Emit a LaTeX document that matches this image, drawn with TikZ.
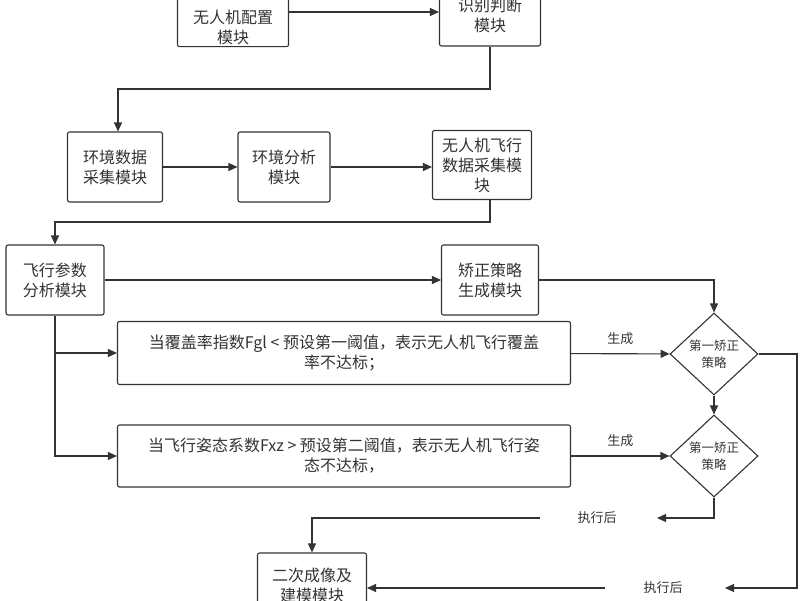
\documentclass[tikz,border=0pt]{standalone}
\usepackage{fontspec}
\setmainfont{Noto Sans CJK SC}
\usetikzlibrary{arrows.meta}
\usetikzlibrary{positioning}
\usetikzlibrary{shapes.geometric}
\begin{document}
\begin{tikzpicture}[x=1pt,y=-1pt,->,>={Triangle[length=9pt,width=8pt]},line width=1.1pt,
					color=black!80,font=\fontsize{16}{20}\selectfont]
					\tikzset{box/.style={draw,rounded corners=2pt,align=center,inner sep=2pt},
					         dec/.style={draw,diamond,aspect=1.07,inner sep=0pt,minimum width=88pt,
					                     minimum height=82pt,align=center,font=\fontsize{12.5}{17}\selectfont},
					         lbl/.style={draw=none,font=\fontsize{13}{16}\selectfont}}
					\useasboundingbox (0,0) rectangle (800,600);
					\clip (0,0) rectangle (800,600);
					
					\node[box,minimum width=111pt,minimum height=58pt] (cfg) at (233,17) {\strut\\无人机配置\\模块};
					\node[box,minimum width=101pt,minimum height=82pt] (rec) at (490,5) {\strut\\识别判断\\模块};
					\node[box,minimum width=95pt,minimum height=70pt]  (env) at (115,167) {环境数据\\采集模块};
					\node[box,minimum width=92pt,minimum height=70pt]  (ana) at (284,167) {环境分析\\模块};
					\node[box,minimum width=99pt,minimum height=69pt]  (uav) at (482,165) {无人机飞行\\数据采集模\\块};
					\node[box,minimum width=98pt,minimum height=70pt]  (fp) at (55,280) {飞行参数\\分析模块};
					\node[box,minimum width=97pt,minimum height=70pt]  (gen) at (490,280) {矫正策略\\生成模块};
					\node[box,minimum width=453pt,minimum height=63pt] (c1) at (344,353) {当覆盖率指数Fgl < 预设第一阈值，表示无人机飞行覆盖\\率不达标；};
					\node[box,minimum width=453pt,minimum height=62pt] (c2) at (344,456) {当飞行姿态系数Fxz > 预设第二阈值，表示无人机飞行姿\\态不达标，};
					\node[dec] (d1) at (714,354) {第一矫正\\策略};
					\node[dec] (d2) at (714,456) {第一矫正\\策略};
					\node[box,minimum width=109pt,minimum height=64pt] (out) at (312,585) {二次成像及\\建模模块};
					\node[lbl] (ex1) at (597,518) {执行后};
					\node[lbl] (ex2) at (663,588) {执行后};
					
					\coordinate (e1a) at (657,518);
					\coordinate (e1b) at (540,518);
					\coordinate (e2a) at (725,588);
					\coordinate (e2b) at (605,588);
					
					\draw (cfg.east |- 0,12) -- (rec.west |- 0,12);
					\draw (rec.south) |- (118,89) -- (env.north -| 118,0);
					\draw (env) -- (ana);
					\draw (ana) -- (ana -| uav.west);
					\draw (uav.south -| 490,0) |- (55,222) -- (fp.north);
					\draw (fp) -- (gen);
					\draw (gen.east) -| (d1.north);
					\draw (fp.south) |- (c1.west);
					\draw (fp.south) |- (c2.west);
					\draw (c1) -- node[lbl,above=5pt,pos=0.5] {生成} (d1);
					\draw (c2) -- node[lbl,above=5pt,pos=0.5] {生成} (d2);
					\draw (d1) -- (d2);
					\draw (d2.south) |- (e1a);
					\draw (e1b) -| (out.north);
					\draw (d1.east) -| (797,588) -- (e2a);
					\draw (e2b) -- (out.east |- e2b);
\end{tikzpicture}
\end{document}
